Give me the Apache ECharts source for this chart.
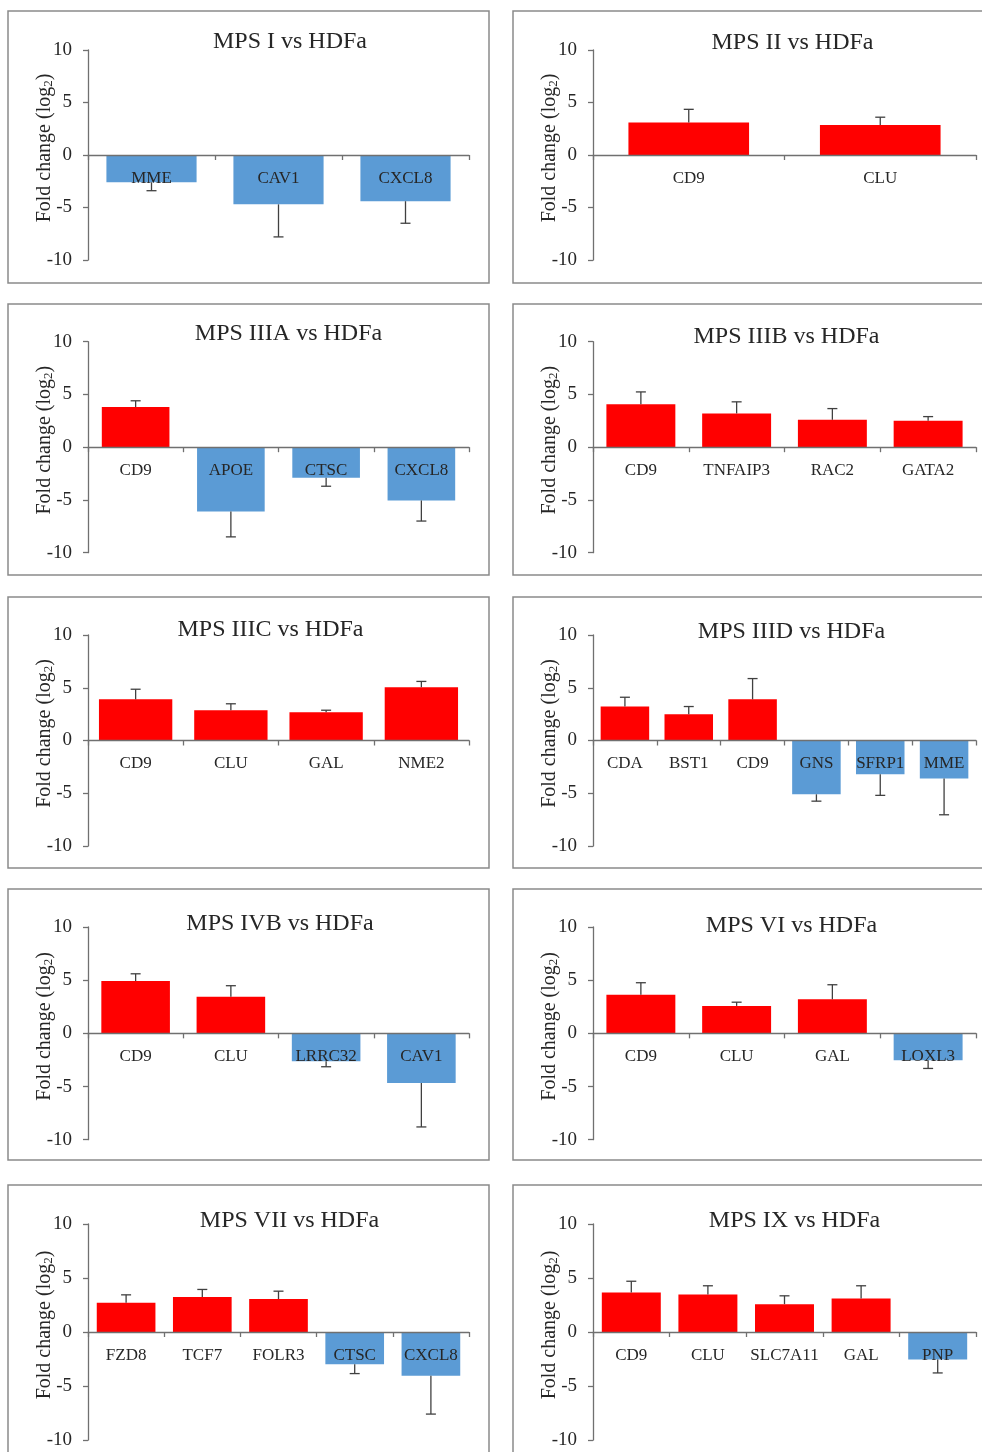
<!DOCTYPE html>
<html><head><meta charset="utf-8">
<script src="https://cdn.jsdelivr.net/npm/echarts@6/dist/echarts.min.js"></script>
<style>html,body{margin:0;padding:0;background:#fff}#c{width:982px;height:1452px}</style>
</head><body><div id="c"></div>
<script>
// ---------- DATA ----------
const panelTitles = ['MPS I vs HDFa','MPS II vs HDFa','MPS IIIA vs HDFa','MPS IIIB vs HDFa','MPS IIIC vs HDFa',
                     'MPS IIID vs HDFa','MPS IVB vs HDFa','MPS VI vs HDFa','MPS VII vs HDFa','MPS IX vs HDFa'];

const mps1Genes = ['MME','CAV1','CXCL8'];
const mps1Values = [-2.6, -4.7, -4.4];
const mps1Errors = [0.8, 3.1, 2.1];

const mps2Genes = ['CD9','CLU'];
const mps2Values = [3.1, 2.85];
const mps2Errors = [1.25, 0.75];

const mps3aGenes = ['CD9','APOE','CTSC','CXCL8'];
const mps3aValues = [3.8, -6.1, -2.9, -5.05];
const mps3aErrors = [0.6, 2.4, 0.8, 1.95];

const mps3bGenes = ['CD9','TNFAIP3','RAC2','GATA2'];
const mps3bValues = [4.07, 3.2, 2.6, 2.5];
const mps3bErrors = [1.17, 1.1, 1.06, 0.4];

const mps3cGenes = ['CD9','CLU','GAL','NME2'];
const mps3cValues = [3.9, 2.87, 2.68, 5.05];
const mps3cErrors = [0.96, 0.61, 0.19, 0.55];

const mps3dGenes = ['CDA','BST1','CD9','GNS','SFRP1','MME'];
const mps3dValues = [3.22, 2.5, 3.9, -5.1, -3.2, -3.6];
const mps3dErrors = [0.88, 0.72, 1.97, 0.65, 2.0, 3.44];

const mps4bGenes = ['CD9','CLU','LRRC32','CAV1'];
const mps4bValues = [4.92, 3.44, -2.63, -4.67];
const mps4bErrors = [0.68, 1.04, 0.51, 4.13];

const mps6Genes = ['CD9','CLU','GAL','LOXL3'];
const mps6Values = [3.63, 2.58, 3.2, -2.52];
const mps6Errors = [1.13, 0.35, 1.37, 0.78];

const mps7Genes = ['FZD8','TCF7','FOLR3','CTSC','CXCL8'];
const mps7Values = [2.7, 3.23, 3.05, -2.98, -4.06];
const mps7Errors = [0.74, 0.71, 0.73, 0.87, 3.54];

const mps9Genes = ['CD9','CLU','SLC7A11','GAL','PNP'];
const mps9Values = [3.66, 3.47, 2.58, 3.1, -2.54];
const mps9Errors = [1.04, 0.81, 0.77, 1.18, 1.25];

const yMin = -10, yMax = 10, yStep = 5;
const yAxisName = 'Fold change (log{s|2})';

const allGenes  = [mps1Genes, mps2Genes, mps3aGenes, mps3bGenes, mps3cGenes, mps3dGenes, mps4bGenes, mps6Genes, mps7Genes, mps9Genes];
const allValues = [mps1Values, mps2Values, mps3aValues, mps3bValues, mps3cValues, mps3dValues, mps4bValues, mps6Values, mps7Values, mps9Values];
const allErrors = [mps1Errors, mps2Errors, mps3aErrors, mps3bErrors, mps3cErrors, mps3dErrors, mps4bErrors, mps6Errors, mps7Errors, mps9Errors];

// ---------- LAYOUT / STYLE ----------
const FONT = 'Liberation Serif';
const RED = '#FF0000', BLUE = '#5B9BD5';
const TEXT = '#262626', AXIS = '#707070', ERR = '#404040', FRAME = '#8a8a8a';
const colLeft = [88, 593], colWidth = [381, 383];
const rowTop = [50, 341.7, 635, 927, 1224], rowHeight = [210, 211, 211, 212.7, 216];
const boxX = [8, 513], boxW = [481, 480];
const boxY = [11, 304, 597, 889, 1185], boxH = [272, 271, 271, 271, 300];
const titleDX = [11.5, 8, 10, 2, -8, 7, 1.5, 7, 11, 10];
const titleY = [42, 43, 333.5, 336.5, 630, 631.5, 923.5, 925.5, 1221, 1221];
const barW = ['71%', '63%', '71%', '72%', '77%', '76%', '72%', '72%', '77%', '77%'];

const grids = [], xAxes = [], yAxes = [], series = [], titles = [], graphics = [];

allGenes.forEach((genes, i) => {
  const col = i % 2, row = Math.floor(i / 2);
  const values = allValues[i], errors = allErrors[i];
  // place the category axis at value 0 of the y scale
  const zeroOffset = -rowHeight[row] * (0 - yMin) / (yMax - yMin);
  graphics.push({type:'rect', silent:true, z:-10,
    shape:{x:boxX[col], y:boxY[row], width:boxW[col], height:boxH[row]},
    style:{fill:'#fff', stroke:FRAME, lineWidth:1.5}});
  grids.push({left:colLeft[col], top:rowTop[row], width:colWidth[col], height:rowHeight[row]});
  titles.push({text:panelTitles[i], left:colLeft[col] + colWidth[col] / 2 + titleDX[i], top:titleY[i],
    textAlign:'center', textVerticalAlign:'middle', padding:0,
    textStyle:{fontFamily:FONT, fontSize:24, fontWeight:'normal', color:TEXT}});
  xAxes.push({type:'category', gridIndex:i, data:genes, z:10, boundaryGap:true,
    position:'bottom', offset:zeroOffset,
    axisLine:{show:true, onZero:false, lineStyle:{color:AXIS, width:1.3}},
    axisTick:{show:true, length:5, lineStyle:{color:AXIS, width:1.3}},
    axisLabel:{interval:0, margin:15, color:TEXT, fontFamily:FONT, fontSize:17}});
  yAxes.push({type:'value', gridIndex:i, min:yMin, max:yMax, interval:yStep,
    splitLine:{show:false},
    axisLine:{show:true, lineStyle:{color:AXIS, width:1.3}},
    axisTick:{show:true, length:5, lineStyle:{color:AXIS, width:1.3}},
    axisLabel:{margin:16, color:TEXT, fontFamily:FONT, fontSize:19},
    name:yAxisName, nameLocation:'middle', nameGap:33, nameMoveOverlap:false,
    nameTextStyle:{fontFamily:FONT, fontSize:20, color:TEXT, padding:[0,0,0,14],
      rich:{s:{fontFamily:FONT, fontSize:13, color:TEXT, verticalAlign:'bottom'}}}});
  series.push({type:'bar', xAxisIndex:i, yAxisIndex:i, barWidth:barW[i], z:2,
    data: values.map(v => ({value:v, itemStyle:{color: v >= 0 ? RED : BLUE}}))});
  series.push({type:'custom', xAxisIndex:i, yAxisIndex:i, z:3,
    data: values.map((v, k) => [k, v, v + (v >= 0 ? 1 : -1) * errors[k]]),
    encode:{x:0, y:[1,2]},
    renderItem:(params, api) => {
      const a = api.coord([api.value(0), api.value(1)]);
      const b = api.coord([api.value(0), api.value(2)]);
      const cap = 5;
      return {type:'group', children:[
        {type:'line', shape:{x1:a[0], y1:a[1], x2:b[0], y2:b[1]}, style:{stroke:ERR, lineWidth:1.3}},
        {type:'line', shape:{x1:b[0]-cap, y1:b[1], x2:b[0]+cap, y2:b[1]}, style:{stroke:ERR, lineWidth:1.3}}
      ]};
    }});
});

const chart = echarts.init(document.getElementById('c'), null, {renderer:'canvas'});
chart.setOption({
  backgroundColor:'#fff', animation:false,
  title:titles, grid:grids, xAxis:xAxes, yAxis:yAxes, series:series,
  graphic:{elements:graphics}
});
</script></body></html>
